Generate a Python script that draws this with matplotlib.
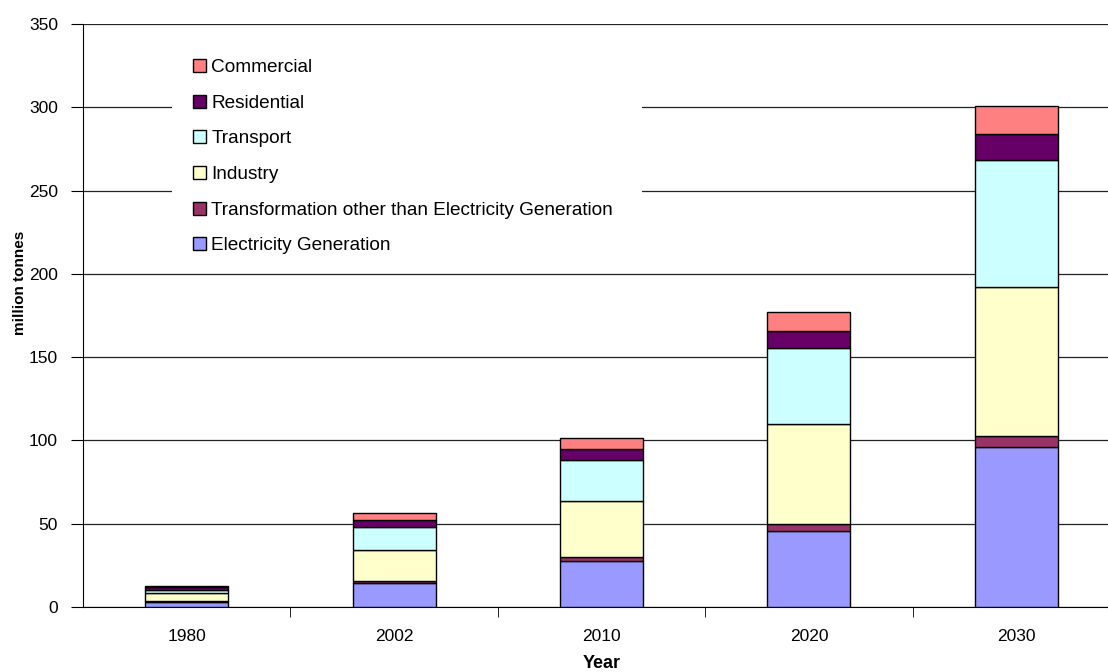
import matplotlib
matplotlib.use("Agg")
import matplotlib.pyplot as plt
from matplotlib.patches import Rectangle
import numpy as np

years = ["1980", "2002", "2010", "2020", "2030"]
series_names = ["Electricity Generation", "Transformation other than Electricity Generation",
                "Industry", "Transport", "Residential", "Commercial"]
electricity = [3.3, 14.2, 27.4, 45.8, 96.2]
transformation = [0.5, 1.4, 2.6, 4.0, 6.6]
industry = [4.8, 18.6, 33.8, 60.2, 89.5]
transport = [1.8, 13.6, 24.2, 45.3, 76.2]
residential = [1.5, 4.2, 6.8, 10.6, 15.6]
commercial = [0.8, 4.2, 6.5, 11.0, 16.9]
colors = ["#9999FF", "#993366", "#FFFFCC", "#CCFFFF", "#660066", "#FF8080"]

plt.rcParams['font.family'] = ['Liberation Sans', 'DejaVu Sans']

W, H = 1108, 672
AX_L, AX_R, AX_T, AX_B = 83, 1120, 24, 607
fig = plt.figure(figsize=(W / 100, H / 100), dpi=100)
ax = fig.add_axes([AX_L / W, 1 - AX_B / H, (AX_R - AX_L) / W, (AX_B - AX_T) / H])
aw, ah = AX_R - AX_L, AX_B - AX_T

x = np.arange(len(years))
data = [electricity, transformation, industry, transport, residential, commercial]
bottom = np.zeros(len(years))
handles = []
for name, vals, c in zip(series_names, data, colors):
    b = ax.bar(x, vals, width=0.4, bottom=bottom, color=c, edgecolor="black",
               linewidth=1.0, label=name, zorder=3)
    handles.append(b)
    bottom += np.array(vals)

ax.set_xlim(-0.5, 4.5)
ax.set_ylim(0, 350)
ax.set_yticks(np.arange(0, 351, 50))
ax.yaxis.grid(True, color="#222222", linewidth=0.9, zorder=0)
ax.set_axisbelow(True)
ax.set_xticks(x)
ax.set_xticklabels(years, fontsize=12.5)
ax.set_xticks(np.arange(0.5, 4.5, 1), minor=True)
ax.tick_params(axis="x", which="major", length=0, pad=16)
ax.tick_params(axis="x", which="minor", length=7, direction="out", color="black")
ax.tick_params(axis="y", length=9, direction="out", labelsize=12.5, pad=9)
for s in ["top", "right"]:
    ax.spines[s].set_visible(False)
ax.spines["left"].set_color("black")
ax.spines["bottom"].set_color("black")
ax.set_xlabel("Year", fontsize=13, fontweight="bold")
ax.xaxis.set_label_coords(0.5, (AX_B - 655) / ah)
ax.set_ylabel("million tonnes", fontsize=11, fontweight="bold")
ax.yaxis.set_label_coords((27 - AX_L) / aw, (AX_B - 283) / ah)

# white legend background (no border), covering the gridlines
bg = Rectangle(((172 - AX_L) / aw, (AX_B - 262) / ah), (642 - 172) / aw, (262 - 40) / ah,
               transform=ax.transAxes, facecolor="white", edgecolor="none", zorder=2)
ax.add_patch(bg)

leg = ax.legend(handles[::-1], series_names[::-1], loc="upper left",
                bbox_to_anchor=((172 - AX_L) / aw, (AX_B - 38) / ah), frameon=False,
                fontsize=13.7, handlelength=0.68, handleheight=0.68, handletextpad=0.28,
                labelspacing=0.97, borderpad=1.1, borderaxespad=0)
leg.set_zorder(5)

fig.savefig("out.png", dpi=100)
